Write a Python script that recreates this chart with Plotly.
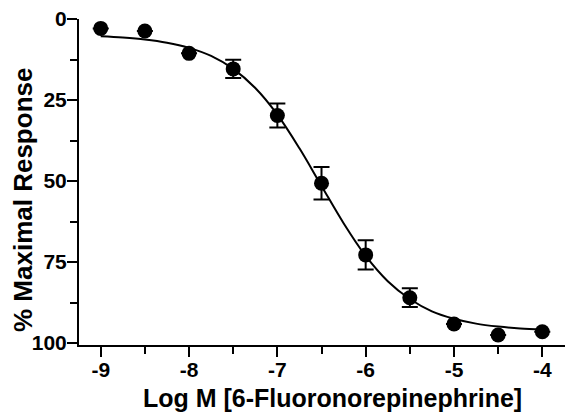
import plotly.graph_objects as go

# Measured data (log molar concentration vs % maximal response)
log_conc = [-9.0, -8.5, -8.0, -7.5, -7.0, -6.5, -6.0, -5.5, -5.0, -4.5, -4.0]
response = [2.9, 3.7, 10.6, 15.4, 29.8, 50.7, 72.8, 86.0, 94.1, 97.5, 96.5]
sem = [0.0, 0.0, 0.0, 2.8, 3.7, 5.0, 4.5, 2.9, 0.0, 0.0, 0.0]

# Fitted curve
curve_x = [-9.0, -8.75, -8.5, -8.25, -8.0, -7.75, -7.5, -7.25, -7.0, -6.75, -6.5,
           -6.25, -6.0, -5.75, -5.5, -5.25, -5.0, -4.75, -4.5, -4.25, -4.0]
curve_y = [5.3, 5.7, 6.3, 7.3, 8.9, 11.4, 15.4, 21.3, 29.5, 39.9, 51.5,
           63.0, 73.1, 80.9, 86.4, 90.2, 92.5, 94.0, 94.9, 95.5, 95.8]

x_ticks = [-9, -8, -7, -6, -5, -4]
y_ticks = [0, 25, 50, 75, 100]

FONT = "Arial, Liberation Sans, sans-serif"

fig = go.Figure()
fig.add_trace(go.Scatter(
    x=curve_x, y=curve_y, mode="lines",
    line=dict(color="black", width=2, shape="spline"),
    hoverinfo="skip", showlegend=False, cliponaxis=False,
))
fig.add_trace(go.Scatter(
    x=log_conc, y=response, mode="markers",
    marker=dict(color="black", size=15),
    error_y=dict(type="data", array=sem, visible=True, color="black",
                 thickness=2, width=8),
    showlegend=False, cliponaxis=False,
))

fig.update_layout(
    width=565, height=413,
    margin=dict(l=79, r=0, t=19, b=68),
    paper_bgcolor="white", plot_bgcolor="white",
    font=dict(family=FONT, color="black"),
    xaxis=dict(
        range=[-9.246, -3.743], tickvals=x_ticks,
        ticktext=[f"<b>{v}</b>" for v in x_ticks],
        showgrid=False, zeroline=False, showline=True,
        linecolor="black", linewidth=2,
        ticks="outside", ticklen=10, tickwidth=2, tickcolor="black",
        ticklabelstandoff=-5,
        tickfont=dict(size=21, family=FONT, color="black"),
        minor=dict(tickvals=[-8.5, -7.5, -6.5, -5.5, -4.5], ticks="outside",
                   ticklen=7, tickwidth=2, tickcolor="black"),
    ),
    yaxis=dict(
        range=[100.6, 0], tickvals=y_ticks,
        ticktext=[f"<b>{v}</b>" for v in y_ticks],
        showgrid=False, zeroline=False, showline=True,
        linecolor="black", linewidth=2,
        ticks="outside", ticklen=10, tickwidth=2, tickcolor="black",
        ticklabelstandoff=-4,
        tickfont=dict(size=21, family=FONT, color="black"),
        minor=dict(tickvals=[12.5, 37.5, 62.5, 87.5], ticks="outside",
                   ticklen=7, tickwidth=2, tickcolor="black"),
    ),
    annotations=[
        dict(text="<b>Log M [6-Fluoronorepinephrine]</b>", xref="paper", yref="paper",
             x=(332 - 79) / 486, y=-(398 - 345) / 326, xanchor="center", yanchor="middle",
             showarrow=False, font=dict(size=25, family=FONT, color="black")),
        dict(text="<b>% Maximal Response</b>", xref="paper", yref="paper",
             x=-(79 - 23) / 486, y=1 - (200 - 19) / 326, xanchor="center", yanchor="middle",
             textangle=-90, showarrow=False, font=dict(size=26, family=FONT, color="black")),
    ],
)

fig.write_html("out.html", config={"displayModeBar": False},
               post_script="document.body.style.margin='0px';")
